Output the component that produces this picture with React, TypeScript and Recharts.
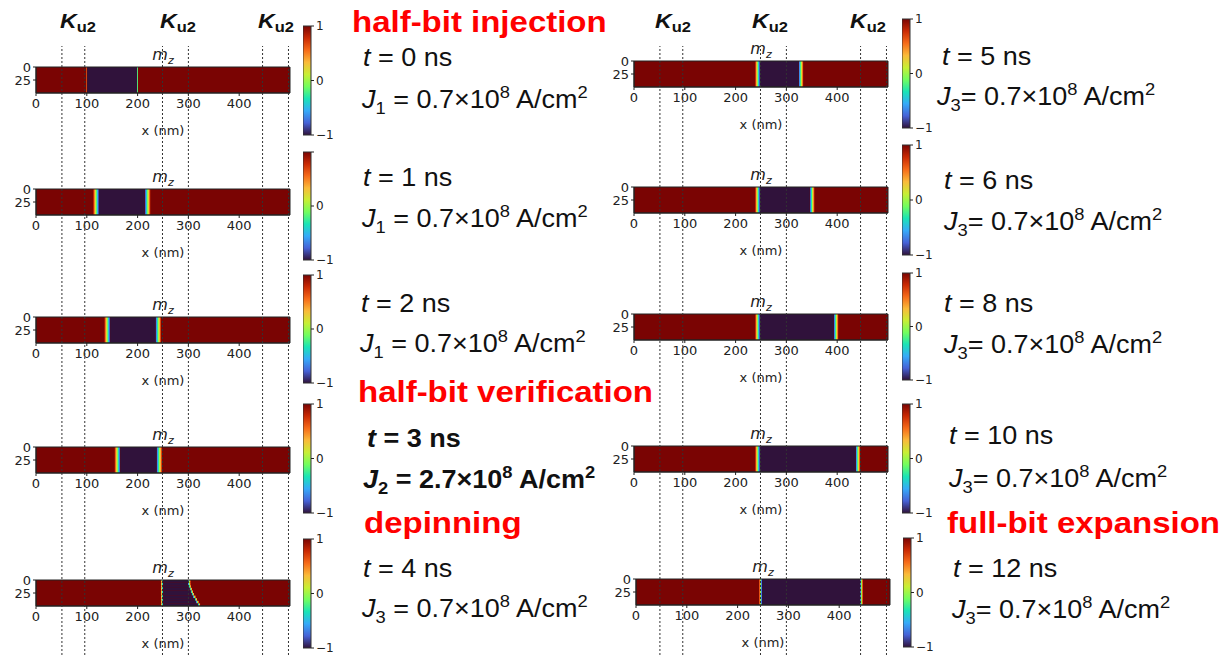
import React from "react";
import { ComposedChart, XAxis, YAxis, ReferenceArea, ReferenceLine, Line } from "recharts";

// snapshots of m_z along the nanowire
const timesNs = [0, 1, 2, 3, 4, 5, 6, 8, 10, 12];
const currentIndex = [1, 1, 1, 2, 3, 3, 3, 3, 3, 3];
const currentValue = ["0.7", "0.7", "0.7", "2.7", "0.7", "0.7", "0.7", "0.7", "0.7", "0.7"];
// domain wall centres (nm); right wall given per row (10 rows of 5 nm when tilted)
const wallLeft = [100, 118, 140, 160, 248, 243, 243, 243, 243, 245];
const wallRight = [
  [200],
  [220],
  [241],
  [243],
  [302, 302, 303, 305, 307, 309, 312, 315, 318, 321],
  [329],
  [351],
  [398],
  [441],
  [444],
];
const wallWidth = [2, 12, 12, 12, 6, 10, 10, 10, 10, 6];
const xTicks = [0, 100, 200, 300, 400];
const yTicks = [0, 25];
const cbTicks = [-1, 0, 1];
const ku2Edges = [51, 96, 249, 300, 446, 497];
const stageLabels = ["half-bit injection", "half-bit verification", "depinning", "full-bit expansion"];

const turbo = ["#30123b", "#4662d7", "#36aaf9", "#1ae4b6", "#72fe5e", "#c8ef34", "#faba39", "#f66b19", "#ca2a04", "#7a0403"];
const turboRev = [...turbo].reverse();
const UP = turbo[turbo.length - 1];
const DOWN = turbo[0];

// layout
const STRIP_W = 254;
const STRIP_H = 26;
const panelX = [36, 36, 36, 36, 36, 634, 634, 634, 634, 636];
const panelY = [67, 189, 317, 447, 580, 61, 187, 314, 446, 579];
const cbX = [303, 303, 303, 303, 303, 902, 902, 902, 902, 903];
const cbTop = [26, 152, 275, 404, 539, 19, 145, 273, 404, 538];
const cbBottom = [135, 260, 383, 513, 648, 128, 255, 380, 513, 647];
const cbHideTop = [false, true, false, false, false, false, false, false, false, false];
const tPos = [[363, 66], [363, 186], [361, 312], [367, 447], [363, 577], [942, 65], [944, 189], [944, 312], [949, 444], [953, 577]];
const jPos = [[362, 108], [362, 227], [360, 352], [363, 488], [362, 617], [937, 105], [944, 230], [944, 353], [949, 487], [952, 618]];
const stagePos = [[352, 32], [358, 402], [364, 533], [947, 533]];
const ku2X = [[60, 160, 258], [655, 752, 850]];

const SANS = "'Liberation Sans', Arial, sans-serif";
const MPL = "'DejaVu Sans', sans-serif";
const TICK = { fontSize: 13, fill: "#222", fontFamily: MPL };

function Strip({ i }: { i: number }) {
  const rows = wallRight[i];
  const h = 50 / rows.length;
  const w = wallWidth[i];
  const a = wallLeft[i];
  const pts = [{ x: a, y: 25 }, { x: rows[0], y: 25 }];
  return (
    <div style={{ position: "absolute", left: panelX[i] - 40, top: panelY[i] - 20 }}>
      <ComposedChart
        width={40 + STRIP_W + 12}
        height={20 + STRIP_H + 48}
        data={pts}
        margin={{ top: 20, right: 12, left: 0, bottom: 6 }}
      >
        <XAxis
          type="number"
          dataKey="x"
          domain={[0, 500]}
          allowDataOverflow
          ticks={xTicks}
          interval={0}
          tick={TICK}
          tickSize={3}
          tickMargin={3}
          height={42}
          stroke="#222"
          label={{ value: "x (nm)", position: "insideBottom", offset: 0, fontSize: 13, fill: "#222", fontFamily: MPL }}
        />
        <YAxis
          type="number"
          dataKey="y"
          domain={[0, 50]}
          allowDataOverflow
          reversed
          ticks={yTicks}
          interval={0}
          tick={TICK}
          tickSize={3}
          tickMargin={2}
          width={40}
          stroke="#222"
        />
        <ReferenceArea x1={0} x2={500} y1={0} y2={50} fill={UP} fillOpacity={1} stroke="none" />
        {rows.map((b, r) => (
          <React.Fragment key={r}>
            <ReferenceArea x1={a + w / 2} x2={b - w / 2} y1={r * h} y2={(r + 1) * h} fill={DOWN} fillOpacity={1} stroke="none" />
            <ReferenceArea x1={a - w / 2} x2={a + w / 2} y1={r * h} y2={(r + 1) * h} fill="url(#wallDown)" fillOpacity={1} stroke="none" />
            <ReferenceArea x1={b - w / 2} x2={b + w / 2} y1={r * h} y2={(r + 1) * h} fill="url(#wallUp)" fillOpacity={1} stroke="none" />
          </React.Fragment>
        ))}
        <ReferenceArea x1={0} x2={500} y1={0} y2={50} fill="none" stroke="#222" strokeWidth={1} />
        <Line dataKey="y" stroke="none" dot={false} activeDot={false} isAnimationActive={false} />
      </ComposedChart>
      <div
        style={{
          position: "absolute",
          left: 40 + STRIP_W / 2 - 20,
          width: 40,
          top: 0,
          textAlign: "center",
          fontFamily: MPL,
          fontStyle: "italic",
          fontSize: 16,
          lineHeight: "15px",
          color: "#222",
        }}
      >
        m<sub style={{ fontSize: 11 }}>z</sub>
      </div>
    </div>
  );
}

function ColorBar({ i }: { i: number }) {
  const hgt = cbBottom[i] - cbTop[i];
  const pts = cbTicks.map((v) => ({ x: 0.5, v }));
  return (
    <div style={{ position: "absolute", left: cbX[i], top: cbTop[i] - 8 }}>
      <ComposedChart width={8 + 30} height={hgt + 16} data={pts} margin={{ top: 8, right: 0, left: 0, bottom: 8 }}>
        <XAxis type="number" dataKey="x" domain={[0, 1]} hide />
        <YAxis
          type="number"
          dataKey="v"
          orientation="right"
          domain={[-1, 1]}
          ticks={cbTicks}
          interval={0}
          width={30}
          tickSize={3}
          tickMargin={2}
          axisLine={false}
          stroke="#222"
          tick={{ fontSize: 12, fill: "#222", fontFamily: MPL, textAnchor: "start" }}
          tickFormatter={(v: number) => (v === 1 && cbHideTop[i] ? "" : v < 0 ? "\u22121" : String(v))}
        />
        <ReferenceArea x1={0} x2={1} y1={-1} y2={1} fill="url(#turboV)" fillOpacity={1} stroke="#333" strokeWidth={1} />
        <Line dataKey="v" stroke="none" dot={false} activeDot={false} isAnimationActive={false} />
      </ComposedChart>
    </div>
  );
}

function Ku2Lines({ left }: { left: number }) {
  const pts = ku2Edges.map((x) => ({ x, y: 0.5 }));
  return (
    <div style={{ position: "absolute", left, top: 46, pointerEvents: "none" }}>
      <ComposedChart width={STRIP_W} height={609} data={pts} margin={{ top: 0, right: 0, left: 0, bottom: 0 }}>
        <XAxis type="number" dataKey="x" domain={[0, 500]} hide />
        <YAxis type="number" dataKey="y" domain={[0, 1]} hide />
        {ku2Edges.map((x) => (
          <ReferenceLine key={x} x={x} stroke="#333" strokeWidth={1} strokeDasharray="2 2" />
        ))}
        <Line dataKey="y" stroke="none" dot={false} activeDot={false} isAnimationActive={false} />
      </ComposedChart>
    </div>
  );
}

function TimeText({ i }: { i: number }) {
  const bold = currentIndex[i] === 2;
  const right = i >= 5;
  const [tx, ty] = tPos[i];
  const [jx, jy] = jPos[i];
  const fw = bold ? 700 : 400;
  const sx = 1.08;
  return (
    <g fontFamily={SANS} fontSize={25} fill="#111" fontWeight={fw}>
      <text transform={`translate(${tx},${ty}) scale(${sx},1)`}>
        <tspan fontStyle="italic">t</tspan>
        {` = ${timesNs[i]} ns`}
      </text>
      <text transform={`translate(${jx},${jy}) scale(${sx},1)`}>
        <tspan fontStyle="italic">J</tspan>
        <tspan fontSize={17} dy={6}>{currentIndex[i]}</tspan>
        <tspan dy={-6}>{`${right ? "" : " "}= ${currentValue[i]}\u00d710`}</tspan>
        <tspan fontSize={17} dy={-10}>8</tspan>
        <tspan dy={10}> A/cm</tspan>
        <tspan fontSize={17} dy={-10}>2</tspan>
      </text>
    </g>
  );
}

export default function App() {
  const all = timesNs.map((_, i) => i);
  return (
    <div style={{ position: "absolute", left: 0, top: 0, width: 1231, height: 655, background: "#fff", overflow: "hidden" }}>
      <svg width={0} height={0} style={{ position: "absolute" }}>
        <defs>
          <linearGradient id="turboV" x1="0" y1="1" x2="0" y2="0">
            {turbo.map((c, k) => (
              <stop key={k} offset={k / (turbo.length - 1)} stopColor={c} />
            ))}
          </linearGradient>
          <linearGradient id="wallDown" x1="0" y1="0" x2="1" y2="0">
            {turboRev.map((c, k) => (
              <stop key={k} offset={k / (turboRev.length - 1)} stopColor={c} />
            ))}
          </linearGradient>
          <linearGradient id="wallUp" x1="0" y1="0" x2="1" y2="0">
            {turbo.map((c, k) => (
              <stop key={k} offset={k / (turbo.length - 1)} stopColor={c} />
            ))}
          </linearGradient>
        </defs>
      </svg>
      {all.map((i) => (
        <Strip key={`s${i}`} i={i} />
      ))}
      {all.map((i) => (
        <ColorBar key={`c${i}`} i={i} />
      ))}
      <Ku2Lines left={36} />
      <Ku2Lines left={634} />
      <svg width={1231} height={655} style={{ position: "absolute", left: 0, top: 0, pointerEvents: "none" }}>
        {ku2X.map((col, c) =>
          col.map((x) => (
            <text key={`k${c}${x}`} transform={`translate(${x},28) scale(1.1,1)`} fontFamily={SANS} fontWeight={700} fill="#111">
              <tspan fontSize={21} fontStyle="italic">K</tspan>
              <tspan fontSize={15} dy={4}>u2</tspan>
            </text>
          ))
        )}
        {stageLabels.map((s, k) => (
          <text
            key={s}
            transform={`translate(${stagePos[k][0]},${stagePos[k][1]}) scale(1.1,1)`}
            fontFamily={SANS}
            fontWeight={700}
            fontSize={30}
            fill="#ff0000"
          >
            {s}
          </text>
        ))}
        {all.map((i) => (
          <TimeText key={`t${i}`} i={i} />
        ))}
      </svg>
    </div>
  );
}
